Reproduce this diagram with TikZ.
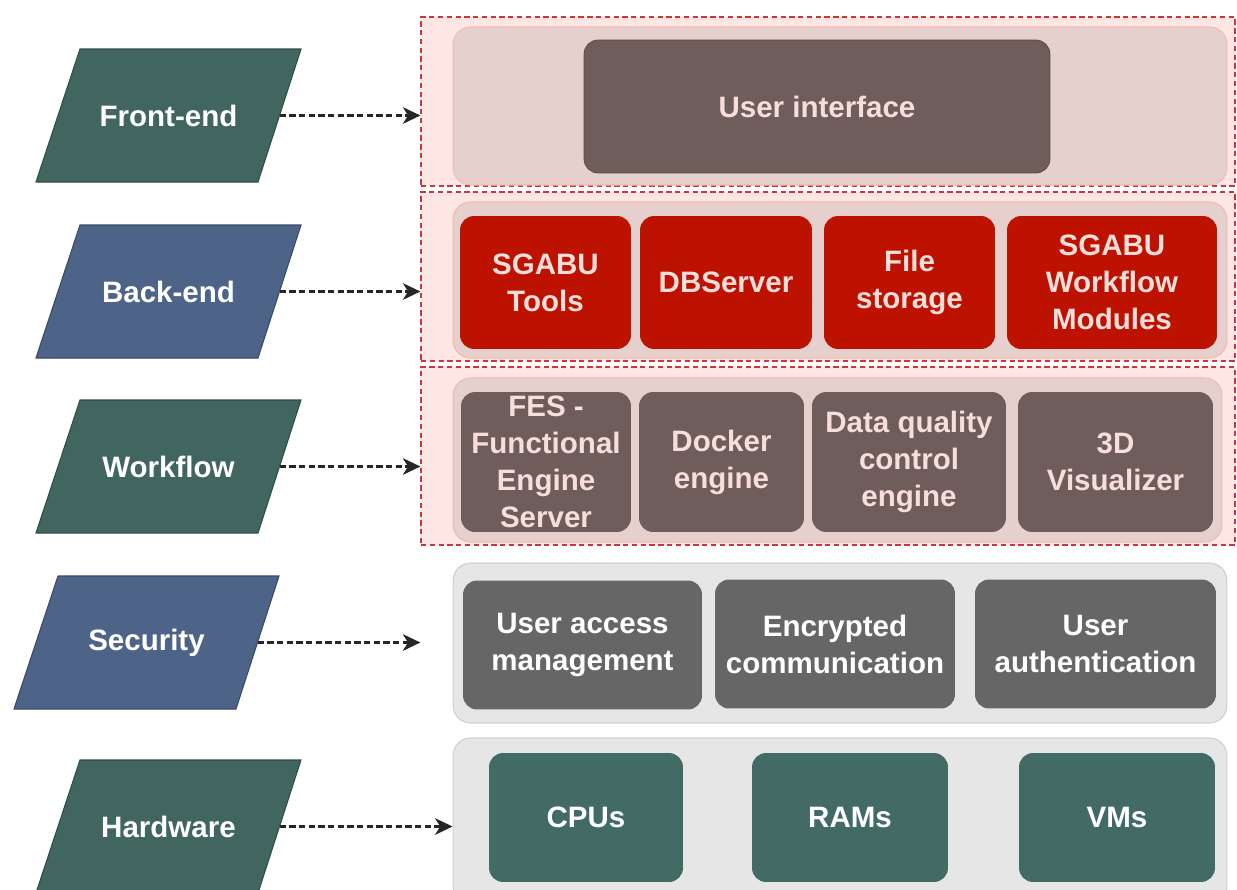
\documentclass[tikz,border=0pt]{standalone}
\usepackage{fontspec}
\setmainfont{Liberation Sans}
\usetikzlibrary{arrows.meta}
\definecolor{layergreen}{HTML}{41665F}
\definecolor{layerblue}{HTML}{4D6388}
\definecolor{zonefill}{HTML}{FDE6E4}
\definecolor{zoneline}{HTML}{C9363B}
\definecolor{groupfill}{HTML}{E5D0CE}
\definecolor{groupline}{HTML}{F3B9B2}
\definecolor{brownbox}{HTML}{6F5D5B}
\definecolor{brownline}{HTML}{4E4E38}
\definecolor{redbox}{HTML}{BD1200}
\definecolor{pinktext}{HTML}{F7DEDB}
\definecolor{greyfill}{HTML}{E6E6E6}
\definecolor{greyline}{HTML}{CFCFCF}
\definecolor{darkgrey}{HTML}{666666}
\definecolor{hwgreen}{HTML}{426B65}

\begin{document}
\begin{tikzpicture}[x=0.02cm,y=-0.02cm,
    font=\fontsize{16.8}{21}\selectfont\bfseries,
    layer/.style={minimum width=4.44cm, minimum height=2.66cm, inner sep=0pt, text=white},
    zone/.style={draw=zoneline, fill=zonefill, dash pattern=on 3pt off 2pt, line width=0.8pt, inner sep=0pt},
    group/.style={rounded corners=10pt, inner sep=0pt, line width=0.6pt},
    unit/.style={rounded corners=8pt, align=center, inner sep=0pt, minimum height=2.66cm},
    flow/.style={-{Stealth[length=10pt,width=9.5pt,inset=3pt]}, draw=black!85, dash pattern=on 3.5pt off 2pt, line width=1.3pt}]
  \useasboundingbox (0,0) rectangle (1237,889);

  \foreach \name/\cx/\cy/\col/\txt in {front/168.5/115.5/layergreen/Front-end,
      back/168.5/291.5/layerblue/Back-end, work/168.5/466.5/layergreen/Workflow,
      secur/146.5/642.5/layerblue/Security, hard/168.5/826.5/layergreen/Hardware} {
    \draw[fill=\col, draw=\col!75!black, line width=0.6pt]
      (\cx-88.5,\cy-66.5) -- (\cx+132.5,\cy-66.5) -- (\cx+89.5,\cy+66.5) -- (\cx-132.5,\cy+66.5) -- cycle;
    \node[layer] (\name) at (\cx,\cy) {\txt};
  }

  \node[zone, minimum width=16.28cm, minimum height=3.38cm] (feZone) at (828,101.5) {};
  \node[zone, minimum width=16.28cm, minimum height=3.38cm] (beZone) at (828,276.5) {};
  \node[zone, minimum width=16.28cm, minimum height=3.56cm] (wfZone) at (828,456) {};

  \node[group, fill=groupfill, draw=groupline, minimum width=15.48cm, minimum height=3.16cm] (feGroup) at (840,106) {};
  \node[group, fill=groupfill, draw=groupline, minimum width=15.48cm, minimum height=3.12cm] (beGroup) at (840,280) {};
  \node[group, fill=groupfill, draw=groupline, minimum width=15.38cm, minimum height=3.28cm] (wfGroup) at (837.5,460) {};
  \node[group, fill=greyfill, draw=greyline, minimum width=15.48cm, minimum height=3.2cm] (secGroup) at (840,643) {};
  \node[group, fill=greyfill, draw=greyline, minimum width=15.48cm, minimum height=3.34cm] (hwGroup) at (840,821.5) {};

  \node[unit, fill=brownbox, draw=brownline, text=pinktext, minimum width=9.32cm] (ui) at (817,106.5) {User interface};

  \node[unit, fill=redbox, text=pinktext, minimum width=3.42cm] (sgTools) at (545.5,282.5) {SGABU\\Tools};
  \node[unit, fill=redbox, text=pinktext, minimum width=3.44cm] (dbServer) at (726,282.5) {DBServer};
  \node[unit, fill=redbox, text=pinktext, minimum width=3.42cm] (fileStore) at (909.5,282.5) {File\\storage};
  \node[unit, fill=redbox, text=pinktext, minimum width=4.2cm] (sgModules) at (1112,282.5) {SGABU\\Workflow\\Modules};

  \node[unit, fill=brownbox, text=pinktext, minimum width=3.4cm, minimum height=2.8cm] (fes) at (546,462) {FES -\\Functional\\Engine\\Server};
  \node[unit, fill=brownbox, text=pinktext, minimum width=3.3cm, minimum height=2.8cm] (docker) at (721.5,462) {Docker\\engine};
  \node[unit, fill=brownbox, text=pinktext, minimum width=3.88cm, minimum height=2.8cm] (dataQ) at (909,462) {Data quality\\control\\engine};
  \node[unit, fill=brownbox, text=pinktext, minimum width=3.9cm, minimum height=2.8cm] (visu) at (1115.5,462) {3D\\Visualizer};

  \node[unit, fill=darkgrey, text=white, minimum width=4.78cm, minimum height=2.58cm] (access) at (582.5,645) {User access\\management};
  \node[unit, fill=darkgrey, text=white, minimum width=4.8cm, minimum height=2.58cm] (crypt) at (835,644) {Encrypted\\communication};
  \node[unit, fill=darkgrey, text=white, minimum width=4.82cm, minimum height=2.58cm] (auth) at (1095.5,644) {User\\authentication};

  \node[unit, fill=hwgreen, text=white, minimum width=3.88cm, minimum height=2.58cm] (cpu) at (586,817.5) {CPUs};
  \node[unit, fill=hwgreen, text=white, minimum width=3.92cm, minimum height=2.58cm] (ram) at (850,817.5) {RAMs};
  \node[unit, fill=hwgreen, text=white, minimum width=3.92cm, minimum height=2.58cm] (vm) at (1117,817.5) {VMs};

  \draw[flow] (front.east) -- (front.east -| feZone.west);
  \draw[flow] (back.east) -- (back.east -| beZone.west);
  \draw[flow] (work.east) -- (work.east -| wfZone.west);
  \draw[flow] (secur.east) -- (secur.east -| wfZone.west);
  \draw[flow] (hard.east) -- (hard.east -| hwGroup.west);
\end{tikzpicture}
\end{document}
